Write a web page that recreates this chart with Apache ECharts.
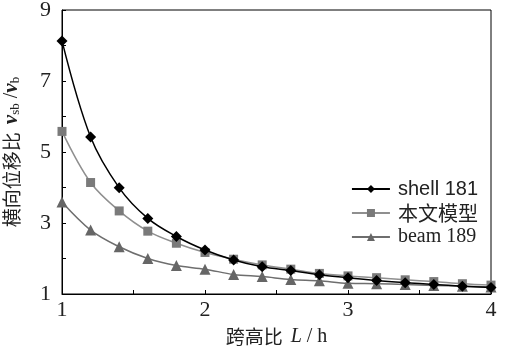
<!DOCTYPE html>
<html><head><meta charset="utf-8">
<script src="https://cdn.jsdelivr.net/npm/echarts@6/dist/echarts.min.js"></script>
<style>html,body{margin:0;padding:0;background:#fff}#c{width:505px;height:346px}</style>
</head><body><div id="c"></div>
<script>
var xValues = [1.0,1.2,1.4,1.6,1.8,2.0,2.2,2.4,2.6,2.8,3.0,3.2,3.4,3.6,3.8,4.0];
var shell181 = [8.13,5.42,3.99,3.13,2.62,2.24,1.96,1.77,1.66,1.54,1.46,1.38,1.32,1.27,1.22,1.18];
var benwen = [5.58,4.14,3.34,2.77,2.43,2.17,1.98,1.82,1.70,1.58,1.51,1.46,1.40,1.35,1.29,1.25];
var beam189 = [3.59,2.80,2.33,2.00,1.80,1.70,1.55,1.49,1.41,1.37,1.30,1.29,1.27,1.24,1.22,1.20];
var seriesNames = ['shell 181','本文模型','beam 189'];
var yTickLabels = ['1','3','5','7','9'];
var xTickLabels = ['1','2','3','4'];

function pairs(ys){ return xValues.map(function(x,i){return [x, ys[i]];}); }
var serif = 'Liberation Serif';
var sans = 'Liberation Sans';
var cjk = 'Noto Sans CJK SC';
var tc = '#222';

var chart = echarts.init(document.getElementById('c'));
chart.setOption({
  animation:false,
  backgroundColor:'#fff',
  grid:{left:62,right:14,top:10,bottom:52,show:true,borderColor:'#000',borderWidth:1,
        containLabel:false, outerBoundsMode:'none'},
  legend:{
    right:22, top:174, orient:'vertical', itemGap:4, itemWidth:38, itemHeight:10,
    data:[
      {name:seriesNames[0], textStyle:{fontFamily:sans}},
      {name:seriesNames[1], textStyle:{fontFamily:cjk}},
      {name:seriesNames[2], textStyle:{fontFamily:serif}}
    ],
    textStyle:{fontSize:20, fontFamily:serif, color:tc, padding:[0,0,0,3]}
  },
  xAxis:{
    type:'value', min:1, max:4, interval:0.5,
    axisLine:{lineStyle:{color:'#000',width:1}},
    axisTick:{inside:true,length:4,lineStyle:{color:'#000'}},
    splitLine:{show:false},
    axisLabel:{fontSize:22, fontFamily:serif, color:tc, margin:5,
      formatter:function(v){ var s=String(v); return xTickLabels.indexOf(s)>=0 ? s : ''; }},
    name:'{c|跨高比}{g| }{i|L}{s| / h}', nameLocation:'middle', nameGap:33,
    nameTextStyle:{rich:{
      c:{fontSize:19,fontFamily:cjk,color:tc},
      g:{fontSize:20,fontFamily:serif,color:tc,width:8},
      i:{fontSize:20,fontFamily:serif,fontStyle:'italic',color:tc},
      s:{fontSize:20,fontFamily:serif,color:tc}
    }}
  },
  yAxis:{
    type:'value', min:1, max:9, interval:1,
    axisLine:{lineStyle:{color:'#000',width:1}},
    axisTick:{inside:true,length:4,lineStyle:{color:'#000'}},
    splitLine:{show:false},
    axisLabel:{fontSize:22, fontFamily:serif, color:tc, margin:11,
      formatter:function(v){ var s=String(v); return yTickLabels.indexOf(s)>=0 ? s : ''; }},
    name:'{c|横向位移比}{g| }{v|v}{sub|sb}{s| /}{v|v}{sub|b}', nameLocation:'middle', nameGap:40, nameRotate:90,
    nameTextStyle:{rich:{
      c:{fontSize:19,fontFamily:cjk,color:tc},
      g:{fontSize:20,fontFamily:serif,color:tc,width:8},
      v:{fontSize:21,fontFamily:serif,fontStyle:'italic',fontWeight:'bold',color:tc},
      sub:{fontSize:13,fontFamily:serif,color:tc,verticalAlign:'bottom',padding:[8,0,0,0]},
      s:{fontSize:20,fontFamily:serif,color:tc}
    }}
  },
  series:[
    {name:seriesNames[0], type:'line', smooth:0.35, data:pairs(shell181), symbol:'diamond', symbolSize:11,
      lineStyle:{color:'#000',width:1.5}, itemStyle:{color:'#000'}, z:3},
    {name:seriesNames[1], type:'line', smooth:0.35, data:pairs(benwen), symbol:'rect', symbolSize:9,
      lineStyle:{color:'#8f8f8f',width:1.5}, itemStyle:{color:'#7a7a7a'}, z:2},
    {name:seriesNames[2], type:'line', smooth:0.35, data:pairs(beam189), symbol:'triangle', symbolSize:11,
      lineStyle:{color:'#6e6e6e',width:1.5}, itemStyle:{color:'#666'}, z:1}
  ]
});
</script></body></html>
